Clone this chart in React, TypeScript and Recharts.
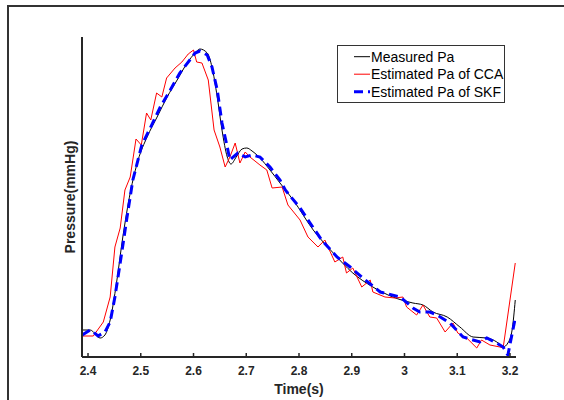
import React from 'react';
import { LineChart, Line, XAxis, YAxis, Legend } from 'recharts';

const xTicks = [2.4, 2.5, 2.6, 2.7, 2.8, 2.9, 3.0, 3.1, 3.2];

const measuredT = [2.389, 2.404, 2.423, 2.432, 2.442, 2.454, 2.466, 2.48, 2.495, 2.512, 2.531, 2.55, 2.569, 2.588, 2.603, 2.612, 2.626, 2.635, 2.645, 2.654, 2.664, 2.671, 2.681, 2.692, 2.701, 2.711, 2.726, 2.745, 2.764, 2.789, 2.827, 2.865, 2.902, 2.94, 2.978, 3.016, 3.035, 3.054, 3.081, 3.105, 3.13, 3.156, 3.175, 3.187, 3.196, 3.204, 3.21];
const measuredP = [66.75, 66.75, 64.75, 65.5, 69.25, 78.5, 90, 101, 109.25, 115, 120, 125, 129.25, 133.5, 136, 137, 136, 132.5, 125, 116.75, 110, 108.25, 110, 112, 112.25, 111.5, 109.75, 106.75, 103.5, 99.25, 91.75, 86, 81, 77.5, 75, 73.5, 73, 71.25, 70, 67.5, 65, 64.75, 63.75, 62.5, 63.5, 66.75, 74.25];

const ccaT = [2.389, 2.41, 2.429, 2.442, 2.451, 2.461, 2.47, 2.48, 2.491, 2.501, 2.511, 2.519, 2.53, 2.54, 2.549, 2.565, 2.578, 2.59, 2.6, 2.606, 2.616, 2.628, 2.639, 2.65, 2.66, 2.669, 2.679, 2.688, 2.698, 2.707, 2.726, 2.739, 2.749, 2.768, 2.779, 2.802, 2.817, 2.836, 2.849, 2.868, 2.883, 2.89, 2.902, 2.919, 2.935, 2.94, 2.963, 2.982, 2.997, 3.004, 3.023, 3.035, 3.048, 3.061, 3.077, 3.092, 3.101, 3.118, 3.137, 3.146, 3.162, 3.181, 3.187, 3.21];
const ccaP = [65.25, 65.25, 68.75, 75, 87.5, 92.25, 101.75, 105, 114.5, 113, 121, 119.25, 126, 125, 129.75, 132.25, 133.75, 135.75, 136.75, 133.75, 133.5, 129.25, 116.75, 112.5, 107.5, 110, 113.5, 108.5, 111.25, 110, 108, 106.75, 102.25, 102.5, 98, 94.25, 90, 87.5, 89.25, 83.75, 85, 81, 82.25, 77.5, 79.25, 76.25, 75, 74.75, 75, 72.5, 70.5, 73, 70, 69.75, 66.25, 68.5, 66, 64.75, 62.25, 64.25, 63, 62.5, 62.25, 83.5];

const skfT = [2.389, 2.404, 2.41, 2.419, 2.432, 2.442, 2.451, 2.461, 2.474, 2.485, 2.502, 2.518, 2.537, 2.556, 2.574, 2.593, 2.603, 2.612, 2.626, 2.635, 2.645, 2.654, 2.664, 2.669, 2.675, 2.684, 2.698, 2.711, 2.726, 2.745, 2.764, 2.774, 2.802, 2.821, 2.843, 2.872, 2.897, 2.921, 2.954, 2.992, 3.016, 3.029, 3.048, 3.062, 3.086, 3.111, 3.143, 3.156, 3.175, 3.187, 3.196, 3.21];
const skfP = [65.5, 66.75, 66.25, 65.25, 66.25, 68.75, 75, 83.5, 95, 104.25, 113, 117.25, 122.5, 126.75, 131, 134.25, 136, 136.5, 135.5, 132.5, 126.75, 118.5, 112.5, 109.25, 110, 111, 110, 110.5, 110, 107.5, 104.25, 101.75, 97.25, 93.5, 89.25, 85, 82.5, 79.75, 76.25, 75, 72.25, 71.25, 71.25, 70.5, 68.5, 65, 63.75, 64.75, 63.5, 62.5, 60.5, 69.75];

const seriesNames = ['Measured Pa', 'Estimated Pa of CCA', 'Estimated Pa of SKF'];

const measured = measuredT.map((t, i) => ({ t, p: measuredP[i] }));
const cca = ccaT.map((t, i) => ({ t, p: ccaP[i] }));
const skf = skfT.map((t, i) => ({ t, p: skfP[i] }));

const FONT = '"Liberation Sans", Arial, sans-serif';
const AXIS = '#262626';

const LegendBox = (props: any) => {
  const payload = [...(props.payload || [])].sort(
    (a: any, b: any) => seriesNames.indexOf(a.value) - seriesNames.indexOf(b.value)
  );
  return (
    <svg width={169} height={59} style={{ display: 'block' }}>
      <rect x={0.5} y={0.5} width={167} height={57} fill="#fff" stroke="#333" strokeWidth={1} />
      {payload.map((e: any, i: number) => {
        const cy = 11.7 + i * 17.5;
        const dashed = e.payload && e.payload.strokeDasharray;
        const sw = (e.payload && e.payload.strokeWidth) || 1;
        return (
          <g key={i}>
            <line x1={17} x2={33} y1={cy} y2={cy} stroke={e.color} strokeWidth={sw} strokeDasharray={dashed} />
            <text x={34} y={cy + 5} fontSize={14} fontFamily={FONT} fill="#000">{e.value}</text>
          </g>
        );
      })}
    </svg>
  );
};

export default function App() {
  return (
    <div style={{ position: 'absolute', left: 0, top: 0, width: 564, height: 400, overflow: 'hidden', background: '#fff' }}>
      <div style={{ position: 'absolute', left: 7, top: 5, width: 700, height: 600, borderTop: '2px solid #333', borderLeft: '2px solid #333' }} />
      <div style={{ position: 'absolute', left: 0, top: 0 }}>
        <LineChart width={564} height={400} margin={{ left: 72, right: 48, top: 37, bottom: 13 }}>
          <XAxis
            dataKey="t"
            type="number"
            domain={[2.3886, 3.2114]}
            allowDataOverflow
            ticks={xTicks}
            tickFormatter={(v: number) => String(+v.toFixed(1))}
            height={30}
            tickSize={-4}
            tickMargin={13}
            axisLine={{ stroke: AXIS, strokeWidth: 2 }}
            tickLine={{ stroke: AXIS, strokeWidth: 1.5 }}
            tick={{ fill: AXIS, fontSize: 12, fontWeight: 'bold', fontFamily: FONT }}
            label={{ value: 'Time(s)', position: 'bottom', offset: -3, style: { fill: AXIS, fontSize: 14, fontWeight: 'bold', fontFamily: FONT } }}
          />
          <YAxis
            type="number"
            domain={[60, 140]}
            allowDataOverflow
            width={10}
            tick={false}
            tickLine={false}
            axisLine={{ stroke: AXIS, strokeWidth: 2 }}
            label={{
              value: 'Pressure(mmHg)',
              content: (p: any) => {
                const vb = p.viewBox || { x: 72, y: 37, width: 10, height: 320 };
                const x = vb.x + vb.width - 7;
                const y = vb.y + vb.height / 2;
                return (
                  <text x={x} y={y} transform={`rotate(-90 ${x} ${y})`} textAnchor="middle" fontSize={14} fontWeight="bold" fontFamily={FONT} fill={AXIS}>
                    Pressure(mmHg)
                  </text>
                );
              },
            }}
          />
          <Legend
            layout="vertical"
            align="center"
            verticalAlign="middle"
            content={LegendBox}
            wrapperStyle={{ position: 'absolute', left: 337, top: 45, width: 169, height: 59 }}
          />
          <Line data={measured} dataKey="p" name={seriesNames[0]} type="monotone" stroke="#000000" strokeWidth={1} dot={false} isAnimationActive={false} />
          <Line data={cca} dataKey="p" name={seriesNames[1]} type="linear" stroke="#ff0000" strokeWidth={1} dot={false} isAnimationActive={false} />
          <Line data={skf} dataKey="p" name={seriesNames[2]} type="linear" stroke="#0000ff" strokeWidth={3} strokeDasharray="9 5" dot={false} isAnimationActive={false} />
        </LineChart>
      </div>
    </div>
  );
}
